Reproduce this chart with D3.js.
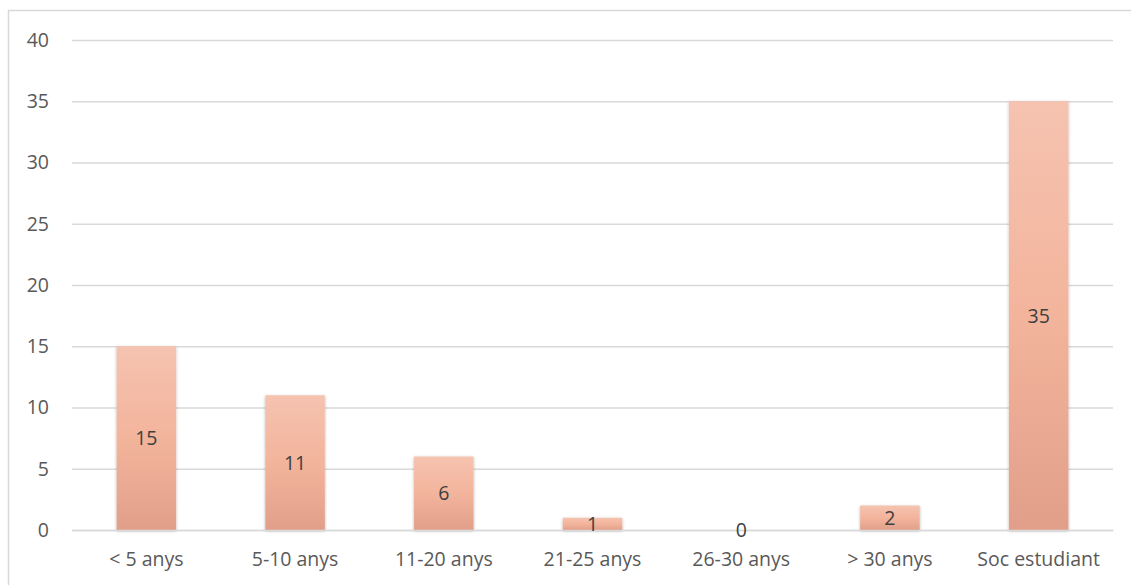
<!doctype html>
<html lang="ca">
<head>
  <meta charset="utf-8">
  <title>Anys</title>
  <script src="https://d3js.org/d3.v7.min.js"></script>
  <style>
    body { margin: 0; background: #fff; }
    svg text { font-family: "Open Sans", sans-serif; fill: #595959; }
  </style>
</head>
<body>
<svg id="chart" width="1131" height="585"></svg>
<script>
// dades
var categories = ["< 5 anys", "5-10 anys", "11-20 anys", "21-25 anys", "26-30 anys", "> 30 anys", "Soc estudiant"];
var values = [15, 11, 6, 1, 0, 2, 35];
var yTicks = [0, 5, 10, 15, 20, 25, 30, 35, 40];

var svg = d3.select("#chart");
var margin = {top: 40, right: 18, bottom: 55, left: 72},
    width = 1131 - margin.left - margin.right,
    height = 585 - margin.top - margin.bottom;

// chart border (right/bottom cut off by the image)
svg.append("path")
  .attr("d", "M8.5,600 L8.5,10.5 L1140,10.5")
  .attr("fill", "none")
  .attr("stroke", "#d9d9d9")
  .attr("stroke-width", 1.5);

var defs = svg.append("defs");
var grad = defs.append("linearGradient")
  .attr("id", "barGrad")
  .attr("x1", 0).attr("y1", 0).attr("x2", 0).attr("y2", 1);
grad.append("stop").attr("offset", "0%").attr("stop-color", "#f5c3b0");
grad.append("stop").attr("offset", "50%").attr("stop-color", "#f3b49c");
grad.append("stop").attr("offset", "100%").attr("stop-color", "#e19f89");

var f = defs.append("filter").attr("id", "shadow")
  .attr("x", "-20%").attr("y", "-20%").attr("width", "140%").attr("height", "140%");
f.append("feDropShadow").attr("dx", 0).attr("dy", 1).attr("stdDeviation", 1.8)
  .attr("flood-color", "#000").attr("flood-opacity", 0.3);

var x = d3.scaleBand().domain(categories).range([0, width]).paddingInner(0.6).paddingOuter(0.3);
var y = d3.scaleLinear().domain([0, 40]).range([height, 0]);

var g = svg.append("g").attr("transform", "translate(" + margin.left + "," + margin.top + ")");

// gridlines
g.append("g")
  .attr("class", "grid")
  .call(d3.axisLeft(y).tickValues(yTicks).tickSize(-width).tickFormat(""))
  .call(function(s) {
    s.select(".domain").remove();
    s.selectAll(".tick line").attr("stroke", "#d9d9d9").attr("stroke-width", 1.3);
  });

// y labels
g.append("g")
  .call(d3.axisLeft(y).tickValues(yTicks).tickSize(0).tickPadding(23))
  .call(function(s) {
    s.select(".domain").remove();
    s.selectAll("text").style("font-size", "19.5px").attr("fill", "#595959");
  });

// bars
g.selectAll(".bar")
  .data(values)
  .enter().append("rect")
  .attr("class", "bar")
  .attr("x", function(d, i) { return x(categories[i]); })
  .attr("y", function(d) { return y(d); })
  .attr("width", x.bandwidth())
  .attr("height", function(d) { return height - y(d); })
  .attr("fill", "url(#barGrad)")
  .attr("filter", "url(#shadow)");

// x axis
g.append("g")
  .attr("transform", "translate(0," + height + ")")
  .call(d3.axisBottom(x).tickSize(0).tickPadding(22))
  .call(function(s) {
    s.select(".domain").attr("stroke", "#d9d9d9").attr("stroke-width", 1.5);
    s.selectAll("text").style("font-size", "19.5px").attr("fill", "#595959");
  });

// data labels
g.selectAll(".lbl")
  .data(values)
  .enter().append("text")
  .attr("class", "lbl")
  .attr("x", function(d, i) { return x(categories[i]) + x.bandwidth() / 2; })
  .attr("y", function(d) { return (y(d) + y(0)) / 2 + 2; })
  .attr("text-anchor", "middle")
  .attr("dominant-baseline", "middle")
  .style("font-size", "19.5px")
  .style("fill", "#404040")
  .text(function(d) { return d; });
</script>
</body>
</html>
